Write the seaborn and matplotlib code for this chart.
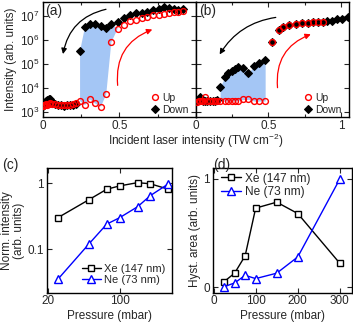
import numpy as np
import matplotlib
matplotlib.use("Agg")
import matplotlib.pyplot as plt
import seaborn as sns
from matplotlib.ticker import FixedLocator, MultipleLocator, NullLocator, FormatStrFormatter

# (a) Xe hysteresis, up / down sweeps
x_a = [0.005, 0.01, 0.015, 0.02, 0.03, 0.04, 0.05, 0.06, 0.08, 0.10, 0.12, 0.14,
       0.16, 0.18, 0.20, 0.22, 0.244, 0.276, 0.308, 0.341, 0.38, 0.414, 0.447,
       0.489, 0.53, 0.568, 0.606, 0.644, 0.679, 0.719, 0.756, 0.789, 0.823,
       0.855, 0.88, 0.91]
up_a = [1800, 1900, 2000, 2100, 2050, 2200, 2300, 2200, 2100, 2000, 1950, 1950,
        2000, 2000, 2100, 2300, 2900, 1950, 3400, 2300, 1700, 5600, 8e5,
        3e6, 4.2e6, 6e6, 6.8e6, 8e6, 9.4e6, 1.1e7, 1.1e7, 1.2e7, 1.27e7,
        1.5e7, 1.5e7, 1.6e7]
down_a = [1800, 2000, 2700, 3000, 3200, 3500, 3400, 2600, 2200, 2000, 1900, 1850,
          1900, 1950, 2000, 2100, 3.5e5, 3.5e6, 4.5e6, 4.6e6, 3.8e6, 3.3e6, 4.5e6,
          5.5e6, 8e6, 1.1e7, 1.27e7, 1.37e7, 1.5e7, 1.8e7, 1.9e7, 2.3e7, 2.1e7,
          1.9e7, 1.8e7, 1.9e7]

# (b) second gas, up sweep stops at 0.873
x_b = [0.01, 0.02, 0.03, 0.04, 0.05, 0.065, 0.08, 0.10, 0.12, 0.135, 0.15,
       0.168, 0.202, 0.225, 0.248, 0.271, 0.294, 0.328, 0.363, 0.404, 0.439, 0.478,
       0.527, 0.57, 0.604, 0.643, 0.692, 0.731, 0.77, 0.807, 0.841, 0.873,
       0.906, 0.94, 0.975, 1.01, 1.045]
up_b = [2700, 2800, 2900, 2800, 2900, 4300, 3000, 2900, 3000, 2900, 2900,
        2900, 2900, 2900, 2900, 2900, 3000, 3400, 3400, 2900, 2900, 2900,
        8e5, 2.5e6, 3.4e6, 4.2e6, 4.6e6, 5e6, 5e6, 5.5e6, 5.5e6, 5.5e6]
down_b = [3000, 3200, 4300, 3200, 2900, 2800, 2900, 3000, 2900, 3000, 3200,
          1.1e4, 3e4, 4.1e4, 5.1e4, 6e4, 7.7e4, 7e4, 4.4e4, 8.4e4, 1.07e5, 1.5e5,
          8e5, 2.5e6, 3.4e6, 4.2e6, 4.6e6, 5e6, 5e6, 5.5e6, 5.5e6, 5.5e6,
          6.3e6, 6.3e6, 7.2e6, 7.6e6, 9.4e6]

# (c), (d) pressure scans
pressure = [25, 50, 75, 100, 150, 200, 300]
xe_norm = [0.30, 0.56, 0.81, 0.91, 1.02, 0.98, 0.81]
ne_norm = [0.035, 0.119, 0.24, 0.30, 0.44, 0.65, 0.98]
xe_hyst = [0.052, 0.13, 0.29, 0.73, 0.785, 0.68, 0.22]
ne_hyst = [0.005, 0.04, 0.11, 0.08, 0.13, 0.28, 1.0]

sns.set_theme(style="ticks")
plt.rcParams['font.family'] = ['Liberation Sans', 'DejaVu Sans']
plt.rcParams['mathtext.default'] = 'regular'
plt.rcParams['axes.linewidth'] = 1.0
plt.rcParams['axes.labelsize'] = 8.5
plt.rcParams['xtick.labelsize'] = 8.5
plt.rcParams['ytick.labelsize'] = 8.5
plt.rcParams['legend.fontsize'] = 8
plt.rcParams['axes.labelpad'] = 2

W, H = 353, 327
fig = plt.figure(figsize=(W / 100, H / 100), dpi=100)

def box(l, r, t, b):
    return [l / W, (H - b) / H, (r - l) / W, (b - t) / H]

ax_a = fig.add_axes(box(42.5, 195.7, 2, 117))
ax_b = fig.add_axes(box(195.7, 349, 2, 117), sharey=ax_a)
ax_c = fig.add_axes(box(46.7, 172, 168, 292.7))
ax_d = fig.add_axes(box(212.7, 351.7, 168, 292.7))

fill_col = '#a4c6f5'

# (a)
xa = np.array(x_a); ua = np.array(up_a); da = np.array(down_a)
poly_x = np.concatenate([xa[16:23], xa[16:24][::-1]])
poly_y = np.concatenate([da[16:23], ua[16:24][::-1]])
ax_a.fill(poly_x, poly_y, color=fill_col, lw=0, zorder=1)
sns.lineplot(x=x_a, y=down_a, ax=ax_a, color='black', marker='D', ms=4, mec='black',
             mfc='black', linestyle='', label='Down', zorder=3)
sns.lineplot(x=x_a, y=up_a, ax=ax_a, color='red', marker='o', ms=4.2, mec='red',
             mfc='none', mew=1.0, linestyle='', label='Up', zorder=4)

# (b)
xb = np.array(x_b); ub = np.array(up_b); db = np.array(down_b)
ax_b.fill_between(xb[11:22], ub[11:22], db[11:22], color=fill_col, lw=0, zorder=1)
sns.lineplot(x=x_b, y=down_b, ax=ax_b, color='black', marker='D', ms=4, mec='black',
             mfc='black', linestyle='', label='Down', zorder=3)
sns.lineplot(x=x_b[:len(up_b)], y=up_b, ax=ax_b, color='red', marker='o', ms=4.2, mec='red',
             mfc='none', mew=1.0, linestyle='', label='Up', zorder=4)

for ax in (ax_a, ax_b):
    ax.set_yscale('log')
    ax.set_ylim(630, 3.8e7)
    ax.yaxis.set_major_locator(FixedLocator([1e3, 1e4, 1e5, 1e6, 1e7]))
    ax.yaxis.set_minor_locator(NullLocator())
    ax.xaxis.set_major_locator(MultipleLocator(0.5))
    ax.xaxis.set_minor_locator(MultipleLocator(0.25))
    ax.xaxis.set_major_formatter(FormatStrFormatter('%g'))
    ax.set_xlabel('')
    ax.set_ylabel('')
    h, l = ax.get_legend_handles_labels()
    ax.legend(h[::-1], l[::-1], loc='lower left', bbox_to_anchor=(0.665, -0.035),
              frameon=False, handlelength=0.8, handletextpad=0.3, labelspacing=0.2,
              borderaxespad=0.2, fontsize=7.5)

ax_a.set_xlim(0, 0.995)
ax_b.set_xlim(0, 1.055)
ax_a.set_ylabel('Intensity (arb. units)')
ax_b.tick_params(labelleft=False)
fig.text((195.7) / W, (H - 150) / H, 'Incident laser intensity (TW cm$^{-2}$)',
         ha='center', va='bottom', fontsize=8.5)

# curved arrows
arr_k = dict(arrowstyle='-|>', color='black', lw=0.9, mutation_scale=8)
arr_r = dict(arrowstyle='-|>', color='red', lw=0.9, mutation_scale=8)
ax_a.annotate('', xy=(0.13, 2e5), xytext=(0.43, 2e7),
              arrowprops=dict(arr_k, connectionstyle='arc3,rad=0.35'))
ax_a.annotate('', xy=(0.73, 3e6), xytext=(0.49, 1e4),
              arrowprops=dict(arr_r, connectionstyle='arc3,rad=-0.4'))
ax_b.annotate('', xy=(0.155, 2e5), xytext=(0.57, 9e6),
              arrowprops=dict(arr_k, connectionstyle='arc3,rad=0.25'))
ax_b.annotate('', xy=(0.81, 1.9e6), xytext=(0.565, 8e3),
              arrowprops=dict(arr_r, connectionstyle='arc3,rad=-0.4'))

ax_a.text(0.02, 0.985, '(a)', transform=ax_a.transAxes, ha='left', va='top', fontsize=10)
ax_b.text(0.02, 0.985, '(b)', transform=ax_b.transAxes, ha='left', va='top', fontsize=10)

# (c)
sns.lineplot(x=pressure, y=xe_norm, ax=ax_c, color='black', marker='s', ms=4.5,
             mfc='white', mec='black', mew=1.0, lw=1.0, label='Xe (147 nm)')
sns.lineplot(x=pressure, y=ne_norm, ax=ax_c, color='blue', marker='^', ms=5.5,
             mfc='white', mec='blue', mew=1.0, lw=1.0, label='Ne (73 nm)')
ax_c.set_xscale('log')
ax_c.set_yscale('log')
ax_c.set_xlim(19.5, 325)
ax_c.set_ylim(0.022, 1.7)
ax_c.xaxis.set_major_locator(FixedLocator([20, 100]))
ax_c.xaxis.set_minor_locator(NullLocator())
ax_c.xaxis.set_major_formatter(FormatStrFormatter('%g'))
ax_c.yaxis.set_major_locator(FixedLocator([0.1, 1]))
ax_c.yaxis.set_minor_locator(NullLocator())
ax_c.yaxis.set_major_formatter(FormatStrFormatter('%g'))
ax_c.set_xlabel('Pressure (mbar)')
ax_c.set_ylabel('Norm. intensity\n(arb. units)', linespacing=1.0)
ax_c.legend(loc='lower left', bbox_to_anchor=(0.22, 0.0), frameon=False, fontsize=8,
            handlelength=1.7, handletextpad=0.3, labelspacing=0.1, borderaxespad=0.3)

# (d)
sns.lineplot(x=pressure, y=xe_hyst, ax=ax_d, color='black', marker='s', ms=4.5,
             mfc='white', mec='black', mew=1.0, lw=1.0, label='Xe (147 nm)')
sns.lineplot(x=pressure, y=ne_hyst, ax=ax_d, color='blue', marker='^', ms=5.5,
             mfc='white', mec='blue', mew=1.0, lw=1.0, label='Ne (73 nm)')
ax_d.set_xlim(-2, 328)
ax_d.set_ylim(-0.05, 1.1)
ax_d.xaxis.set_major_locator(FixedLocator([0, 100, 200, 300]))
ax_d.yaxis.set_major_locator(FixedLocator([0, 1]))
ax_d.set_xlabel('Pressure (mbar)')
ax_d.set_ylabel('Hyst. area (arb. units)')
ax_d.legend(loc='upper left', bbox_to_anchor=(0.0, 1.03), frameon=False, fontsize=8.6,
            handlelength=1.7, handletextpad=0.3, labelspacing=0.1, borderaxespad=0.3)

fig.text(2 / W, (H - 158) / H, '(c)', ha='left', va='top', fontsize=10)
fig.text(213 / W, (H - 158) / H, '(d)', ha='left', va='top', fontsize=10)

for ax in (ax_a, ax_b, ax_c, ax_d):
    ax.tick_params(which='both', direction='in', top=True, right=True, pad=2)
    ax.tick_params(which='major', length=3.5, width=0.8)
    ax.tick_params(which='minor', length=2, width=0.8)
    for s in ax.spines.values():
        s.set_color('black')

fig.savefig('out.png', dpi=100)
